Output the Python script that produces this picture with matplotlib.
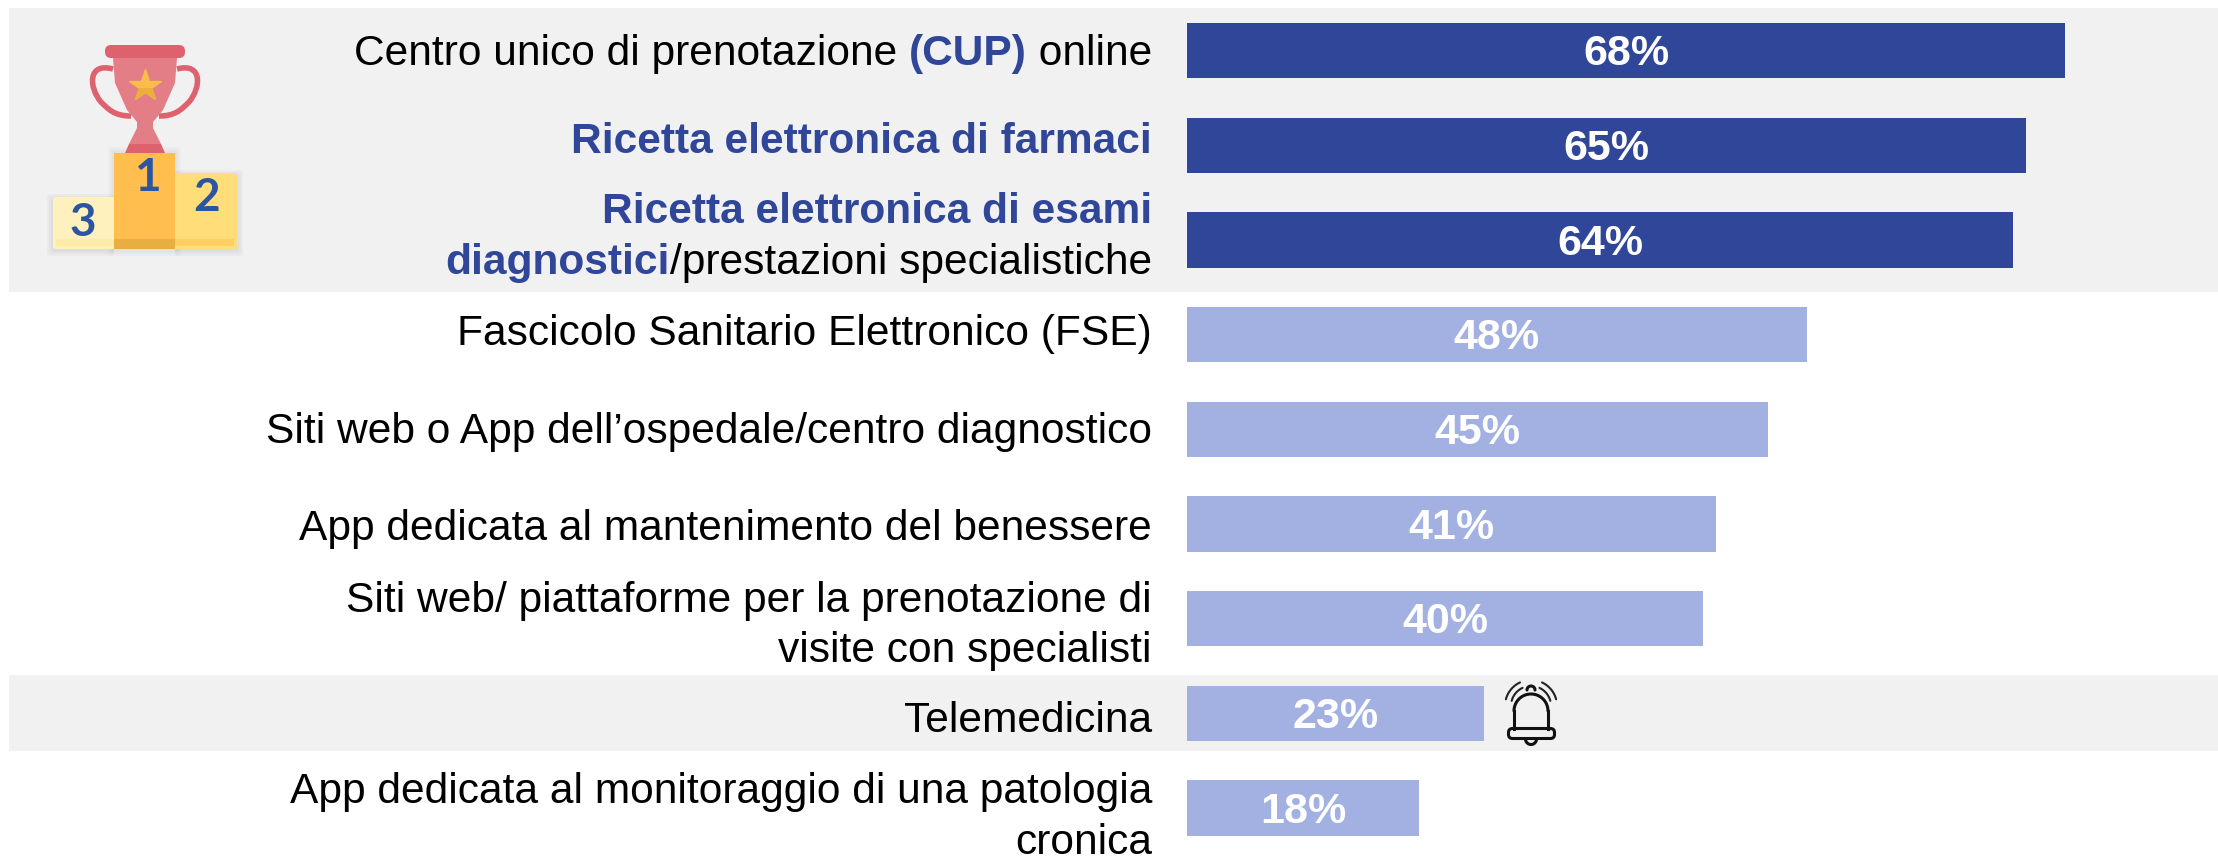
import matplotlib
matplotlib.use("Agg")
import matplotlib.pyplot as plt
import numpy as np
from matplotlib.patches import FancyBboxPatch, PathPatch, Polygon, Rectangle
from matplotlib.path import Path

plt.rcParams["font.family"] = ["Liberation Sans", "DejaVu Sans"]

values = [68, 65, 64, 48, 45, 41, 40, 23, 18]
highlight = [True, True, True, False, False, False, False, False, False]

# each label: list of lines, each line a list of (text, bold) runs
labels = [
    [[("Centro unico di prenotazione ", False), ("(CUP)", True), (" online", False)]],
    [[("Ricetta elettronica di farmaci", True)]],
    [[("Ricetta elettronica di esami", True)],
     [("diagnostici", True), ("/prestazioni specialistiche", False)]],
    [[("Fascicolo Sanitario Elettronico (FSE)", False)]],
    [[("Siti web o App dell’ospedale/centro diagnostico", False)]],
    [[("App dedicata al mantenimento del benessere", False)]],
    [[("Siti web/ piattaforme per la prenotazione di", False)],
     [("visite con specialisti", False)]],
    [[("Telemedicina", False)]],
    [[("App dedicata al monitoraggio di una patologia", False)],
     [("cronica", False)]],
]

DARK = "#2F4699"
LIGHT = "#A3B1E2"
GREY = "#F1F1F1"
W, H = 2218, 856

fig = plt.figure(figsize=(W / 100, H / 100), dpi=100)

# bars: percent on x, row index on y, scaled so the rows land where they should
ax = fig.add_axes([0, 0, 1, 1])
px_per_pct = 12.91
px_per_row = 94.7
ax.set_xlim(-1187 / px_per_pct, (W - 1187) / px_per_pct)
ax.set_ylim((H - 50.5) / px_per_row, -50.5 / px_per_row)
ax.axis("off")

rows = np.arange(len(values))
colors = [DARK if h else LIGHT for h in highlight]

# overlay in pixels for the bands, labels and icons
px = fig.add_axes([0, 0, 1, 1], zorder=-1)
px.set_xlim(0, W)
px.set_ylim(H, 0)
px.axis("off")
top = fig.add_axes([0, 0, 1, 1], zorder=3)
top.set_xlim(0, W)
top.set_ylim(H, 0)
top.axis("off")
top.patch.set_alpha(0)

px.add_patch(Rectangle((9, 8), W - 9, 284, color=GREY, lw=0))
px.add_patch(Rectangle((9, 675), W - 9, 76, color=GREY, lw=0))

ax.barh(rows, values, height=0.585, color=colors)
for r, v in zip(rows, values):
    ax.text(v / 2, r + 0.04, f"{v}%", color="white", fontsize=31, fontweight="bold",
            ha="center", va="center")

renderer = fig.canvas.get_renderer()
LABEL_SIZE = 30.6
RIGHT = 1152


def run_width(text, bold):
    # measured against a "|" so leading and trailing spaces count
    def w(s):
        t = top.text(0, 0, s, fontsize=LABEL_SIZE, fontweight="bold" if bold else "normal")
        width = t.get_window_extent(renderer).width
        t.remove()
        return width
    return w(text + "|") - w("|")


# baselines, so the bold and regular runs of a line sit level
line_y = [[65], [153], [223, 274], [345], [443], [540], [612, 662], [732], [803, 854]]
for label, ys in zip(labels, line_y):
    for line, y in zip(label, ys):
        x = RIGHT
        for text, bold in reversed(line):
            x -= run_width(text, bold)
            top.text(x, y, text, fontsize=LABEL_SIZE, va="baseline", ha="left",
                     fontweight="bold" if bold else "normal",
                     color=DARK if bold else "black")


def rounded(a, x0, y0, x1, y1, color, rad=3, z=2, alpha=1):
    a.add_patch(FancyBboxPatch((x0 + rad, y0 + rad), x1 - x0 - 2 * rad, y1 - y0 - 2 * rad,
                               boxstyle=f"round,pad={rad},rounding_size={rad}",
                               fc=color, ec="none", zorder=z, alpha=alpha))


def arc(a, cx, cy, r, t0, t1, **kw):
    t = np.radians(np.linspace(t0, t1, 40))
    a.plot(cx + r * np.cos(t), cy + r * np.sin(t), solid_capstyle="round", **kw)


# trophy and podium
for grow in (6, 4, 2):
    rounded(top, 53 - grow, 197 - grow + 3, 114, 249 + grow + 1, "#777777", z=1, alpha=0.05)
    rounded(top, 175, 173 - grow + 3, 237 + grow, 249 + grow + 1, "#777777", z=1, alpha=0.05)
    rounded(top, 114 - grow, 153 - grow, 175 + grow, 249 + grow + 1, "#777777", z=1, alpha=0.04)
curve = [Path.MOVETO, Path.CURVE4, Path.CURVE4, Path.CURVE4, Path.CURVE4, Path.CURVE4, Path.CURVE4]
for sign in (-1, 1):
    xs = [32, 58, 56, 44, 36, 30, 14]
    ys = [69, 62, 88, 102, 110, 116, 116]
    top.add_patch(PathPatch(Path([(145 + sign * xx, yy) for xx, yy in zip(xs, ys)], curve),
                            fc="none", ec="#DE626D", lw=4, zorder=2))
top.add_patch(Polygon([(113, 58), (177, 58), (175, 83), (163, 110), (153, 122), (153, 128),
                       (161, 144), (129, 144), (137, 128), (137, 122), (127, 110), (115, 83)],
                      fc="#E37D86", ec="none", zorder=3))
top.add_patch(Polygon([(129, 144), (161, 144), (165, 153), (125, 153)], fc="#DE626D", ec="none", zorder=3))
rounded(top, 105, 45, 185, 58, "#DE626D", rad=6, z=4)
top.plot([145], [86], marker="*", ms=24, mfc="#F9BD4C", mec="#F9BD4C", zorder=5)
lower = top.plot([145], [86], marker="*", ms=24, mfc="#EBAF3E", mec="#EBAF3E", zorder=6)[0]
lower.set_clip_path(Rectangle((120, 88), 50, 20, transform=top.transData))
rounded(top, 53, 197, 116, 249, "#FFF1BD", z=4)
rounded(top, 173, 173, 237, 249, "#FFDD78", z=4)
top.add_patch(Rectangle((114, 153), 61, 96, fc="#FFBE4D", ec="none", zorder=5))
top.add_patch(Rectangle((56, 239), 58, 7, fc="#FFEBA8", ec="none", zorder=5))
top.add_patch(Rectangle((114, 239), 61, 10, fc="#E8AE42", ec="none", zorder=5))
top.add_patch(Rectangle((175, 239), 59, 7, fc="#FFCF62", ec="none", zorder=5))
for x, y, s in [(83, 223, "3"), (147, 178, "1"), (207, 198, "2")]:
    top.text(x, y, s, fontsize=33, fontweight="bold", color="#2B55A0", ha="center",
             va="center", family="Lato", zorder=6)

# bell next to the telemedicine bar
ink = dict(color="#111111", lw=2.2, zorder=4)
arc(top, 1531, 711, 17, 180, 360, **ink)
top.plot([1514, 1514], [711, 729], **ink)
top.plot([1548, 1548], [711, 729], **ink)
top.add_patch(FancyBboxPatch((1512, 732), 39, 3, boxstyle="round,pad=3.5,rounding_size=4",
                             fc="none", ec="#111111", lw=2.2, zorder=4))
arc(top, 1531, 739, 5.5, 0, 180, **ink)
arc(top, 1531, 690, 4, 180, 360, **ink)
thin = dict(color="#222222", lw=1.5, zorder=4)
arc(top, 1531, 706, 26, 195, 245, **thin)
arc(top, 1531, 706, 20, 195, 245, **thin)
arc(top, 1531, 706, 26, 295, 345, **thin)
arc(top, 1531, 706, 20, 295, 345, **thin)
top.set_xlim(0, W)
top.set_ylim(H, 0)

fig.savefig("out.png", dpi=100)
